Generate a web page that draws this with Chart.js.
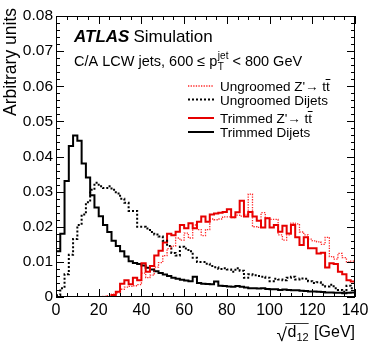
<!DOCTYPE html>
<html>
<head>
<meta charset="utf-8">
<script src="https://cdn.jsdelivr.net/npm/chart.js@4.4.1/dist/chart.umd.min.js"></script>
<style>
  html, body { margin: 0; padding: 0; background: #fff; }
  canvas { display: block; }
</style>
</head>
<body>
<canvas id="d12Chart" width="374" height="355"></canvas>
<script>
// sqrt(d12) histograms, 2 GeV bins from 0 to 140 GeV
const binWidth = 2;
const xTicks = [0, 20, 40, 60, 80, 100, 120, 140];
const yTicks = [0, 0.01, 0.02, 0.03, 0.04, 0.05, 0.06, 0.07, 0.08];

const ungroomedZprime = [
  0, 0, 0, 0, 0, 0, 0, 0, 0, 0, 0,
  0.0002, 0.0004, 0.0008, 0.0012, 0.0022, 0.0028, 0.003, 0.0032, 0.0035, 0.0068,
  0.0055, 0.0062, 0.0085, 0.0098, 0.0118, 0.0138, 0.0145, 0.0168, 0.0162, 0.0182,
  0.0168, 0.0205, 0.0192, 0.0175, 0.0192, 0.0222, 0.022, 0.0222, 0.0228, 0.0228,
  0.0226, 0.0233, 0.023, 0.0235, 0.0293, 0.02, 0.0198, 0.024, 0.0225, 0.0221,
  0.0221, 0.0177, 0.0162, 0.0177, 0.021, 0.0208, 0.0185, 0.0177, 0.0165, 0.016,
  0.0157, 0.015, 0.017, 0.0115, 0.0108, 0.0124, 0.0112, 0.01, 0.0102
];
const ungroomedDijets = [
  0.0005, 0.0025, 0.0065, 0.012, 0.0165, 0.0205, 0.0235, 0.027, 0.0305, 0.0325,
  0.0315, 0.031, 0.0315, 0.0305, 0.0295, 0.028, 0.0268, 0.0245,
  0.0245, 0.020, 0.020, 0.0195, 0.0185, 0.0178, 0.0172, 0.016, 0.0145, 0.0125,
  0.0118, 0.0143, 0.0138, 0.013, 0.0112, 0.0100,
  0.01, 0.0095, 0.0088, 0.0085, 0.008, 0.0082, 0.0078, 0.0072, 0.0082, 0.0075,
  0.0055, 0.0065, 0.0062, 0.006, 0.0058, 0.0055, 0.0045, 0.0052, 0.005, 0.0048,
  0.0055, 0.0058, 0.005, 0.0053, 0.0052, 0.0045, 0.004, 0.0042, 0.0035, 0.003,
  0.0035, 0.0025, 0.002, 0.0015, 0.0032, 0.0025
];
const trimmedZprime = [
  0, 0, 0, 0, 0, 0, 0, 0, 0, 0, 0, 0, 0,
  0.0006, 0.0015, 0.0038, 0.0048, 0.0036, 0.0055, 0.0048, 0.0096, 0.0072, 0.0088,
  0.0118, 0.0132, 0.0155, 0.018, 0.0176, 0.0186, 0.0205, 0.0196, 0.021, 0.0196,
  0.0214, 0.0229, 0.0214, 0.0235, 0.0238, 0.024, 0.0242, 0.025, 0.0227, 0.0241,
  0.0274, 0.0229, 0.0242, 0.0229, 0.0217, 0.0198, 0.0224, 0.0198, 0.0205, 0.0186,
  0.0203, 0.0181, 0.0205, 0.017, 0.0148, 0.017, 0.0139, 0.0139, 0.0124, 0.0126,
  0.0084, 0.0096, 0.0094, 0.0072, 0.0065, 0.0048, 0.0044
];
const trimmedDijets = [
  0.013, 0.018, 0.033, 0.043, 0.046, 0.0445, 0.038, 0.034, 0.029, 0.0255,
  0.023, 0.0205, 0.0185, 0.016, 0.0145, 0.013, 0.0115, 0.0102,
  0.0097, 0.0094, 0.009, 0.0083, 0.0078, 0.0073, 0.0068, 0.0064, 0.006, 0.0055,
  0.0052, 0.0049, 0.0047, 0.0045, 0.0058, 0.004, 0.0038, 0.0037,
  0.0036, 0.0044, 0.0032, 0.0031, 0.003, 0.0029, 0.0031, 0.0029, 0.0027, 0.0025,
  0.0025, 0.0024, 0.0025, 0.0023, 0.0022, 0.0022, 0.002, 0.0021,
  0.002, 0.0019, 0.0019, 0.0018, 0.0017, 0.0016, 0.0016, 0.0015, 0.0014, 0.0013,
  0.0013, 0.0012, 0.0012, 0.0011, 0.0012, 0.0013
];

const FONT = "'Liberation Sans', Arial, Helvetica, sans-serif";
const RED = '#e60000';

// left bin edges + closing edge, drawn as steps
function toSteps(values) {
  const pts = values.map((v, i) => ({ x: i * binWidth, y: v }));
  pts.push({ x: values.length * binWidth, y: values[values.length - 1] });
  return pts;
}

const series = [
  { label: "Ungroomed Z'\u2192 tt", data: ungroomedZprime, color: 'rgba(255,0,0,0.85)', width: 1.3, dash: [1.3, 1.3], bar: true },
  { label: 'Ungroomed Dijets', data: ungroomedDijets, color: '#000', width: 2, dash: [2, 2] },
  { label: "Trimmed Z'\u2192 tt", data: trimmedZprime, color: RED, width: 2, dash: [], bar: true },
  { label: 'Trimmed Dijets', data: trimmedDijets, color: '#000', width: 2, dash: [] }
];

const decorations = {
  id: 'decorations',
  afterDraw(chart) {
    const { ctx, chartArea: a, scales: { x, y } } = chart;
    ctx.save();
    ctx.strokeStyle = '#000';
    ctx.lineWidth = 1;
    ctx.setLineDash([]);

    // frame
    ctx.strokeRect(a.left + 0.5, a.top + 0.5, a.right - a.left - 1, a.bottom - a.top - 1);

    // inward ticks on all four sides
    ctx.beginPath();
    for (let v = 0; v <= 140; v += 5) {
      const px = Math.round(x.getPixelForValue(v)) + 0.5;
      const len = v % 20 === 0 ? 8 : 4;
      ctx.moveTo(px, a.bottom); ctx.lineTo(px, a.bottom - len);
      ctx.moveTo(px, a.top); ctx.lineTo(px, a.top + len);
    }
    for (let k = 0; k <= 40; k++) {
      const py = Math.round(y.getPixelForValue(k * 0.002)) + 0.5;
      const len = k % 5 === 0 ? 8 : 4;
      ctx.moveTo(a.left, py); ctx.lineTo(a.left + len, py);
      ctx.moveTo(a.right, py); ctx.lineTo(a.right - len, py);
    }
    ctx.stroke();

    ctx.fillStyle = '#000';
    ctx.textBaseline = 'alphabetic';

    // ATLAS Simulation
    ctx.font = 'italic bold 17px ' + FONT;
    ctx.fillText('ATLAS', 74, 42);
    const aw = ctx.measureText('ATLAS').width;
    ctx.font = '17px ' + FONT;
    ctx.fillText('Simulation', 74 + aw + 4, 42);

    // jet selection
    ctx.font = '14.5px ' + FONT;
    let tx = 74;
    const part1 = 'C/A LCW jets, 600 \u2264 p';
    ctx.fillText(part1, tx, 66);
    tx += ctx.measureText(part1).width + 0.5;
    ctx.font = '10px ' + FONT;
    ctx.fillText('jet', tx, 59);
    ctx.fillText('T', tx, 70);
    tx += ctx.measureText('jet').width + 4;
    ctx.font = '14.5px ' + FONT;
    ctx.fillText('< 800 GeV', tx, 66);

    // legend
    const rows = [86, 99.5, 118, 132];
    series.forEach((s, i) => {
      ctx.beginPath();
      ctx.strokeStyle = s.color;
      ctx.lineWidth = s.width;
      ctx.setLineDash(s.dash);
      ctx.moveTo(188, rows[i]);
      ctx.lineTo(214, rows[i]);
      ctx.stroke();
      ctx.setLineDash([]);
      ctx.font = '13.5px ' + FONT;
      ctx.fillStyle = '#000';
      ctx.textBaseline = 'middle';
      ctx.fillText(s.label, 220, rows[i] + 1.5);
      if (s.bar) {
        // anti-top bar over the last t
        const full = ctx.measureText(s.label).width;
        const tw = ctx.measureText('t').width;
        ctx.strokeStyle = '#000';
        ctx.lineWidth = 1;
        ctx.beginPath();
        ctx.moveTo(220 + full - tw - 0.5, rows[i] - 6.5);
        ctx.lineTo(220 + full + 0.5, rows[i] - 6.5);
        ctx.stroke();
      }
    });

    // y title
    ctx.save();
    ctx.translate(11, 8);
    ctx.rotate(-Math.PI / 2);
    ctx.font = '17.5px ' + FONT;
    ctx.textAlign = 'right';
    ctx.textBaseline = 'middle';
    ctx.fillText('Arbitrary units', 0, 0);
    ctx.restore();

    // x title: sqrt(d12) [GeV], right aligned to the frame
    ctx.textBaseline = 'alphabetic';
    ctx.font = '16px ' + FONT;
    const unit = ' [GeV]';
    const uw = ctx.measureText(unit).width;
    const dw = ctx.measureText('d').width;
    ctx.font = '11px ' + FONT;
    const sw = ctx.measureText('12').width;
    const xr = a.right - uw;
    ctx.font = '16px ' + FONT;
    ctx.fillText(unit, xr, 337);
    ctx.font = '11px ' + FONT;
    ctx.fillText('12', xr - sw - 1, 341);
    ctx.font = '16px ' + FONT;
    const dx = xr - sw - 1 - dw;
    ctx.fillText('d', dx, 337);
    ctx.font = '19px ' + FONT;
    ctx.fillText('\u221A', dx - 11, 341);
    ctx.strokeStyle = '#000';
    ctx.lineWidth = 0.8;
    ctx.beginPath();
    ctx.moveTo(dx - 2, 323.5);
    ctx.lineTo(xr - 1, 323.5);
    ctx.stroke();

    ctx.restore();
  }
};

new Chart(document.getElementById('d12Chart').getContext('2d'), {
  type: 'line',
  data: {
    datasets: series.map(s => ({
      label: s.label,
      data: toSteps(s.data),
      borderColor: s.color,
      borderWidth: s.width,
      borderDash: s.dash,
      stepped: 'before',
      pointRadius: 0,
      fill: false,
      tension: 0
    }))
  },
  options: {
    responsive: false,
    animation: false,
    devicePixelRatio: 1,
    layout: { padding: { left: 0, top: 16, right: 19, bottom: 0 } },
    plugins: { legend: { display: false }, tooltip: { enabled: false } },
    scales: {
      x: {
        type: 'linear',
        min: 0,
        max: 140,
        afterBuildTicks: s => { s.ticks = xTicks.map(v => ({ value: v })); },
        afterFit: s => { s.height = 58; },
        grid: { display: false, drawTicks: false, tickLength: 0 },
        border: { display: false },
        ticks: { color: '#000', font: { family: FONT, size: 16 }, padding: 4, maxRotation: 0, autoSkip: false,
          callback: v => String(v) }
      },
      y: {
        type: 'linear',
        min: 0,
        max: 0.08,
        afterBuildTicks: s => { s.ticks = yTicks.map(v => ({ value: v })); },
        afterFit: s => { s.width = 56; },
        grid: { display: false, drawTicks: false, tickLength: 0 },
        border: { display: false },
        ticks: { color: '#000', font: { family: FONT, size: 15.5 }, padding: 3,
          callback: v => v === 0 ? '0' : v.toFixed(2) }
      }
    }
  },
  plugins: [decorations]
});
</script>
</body>
</html>
